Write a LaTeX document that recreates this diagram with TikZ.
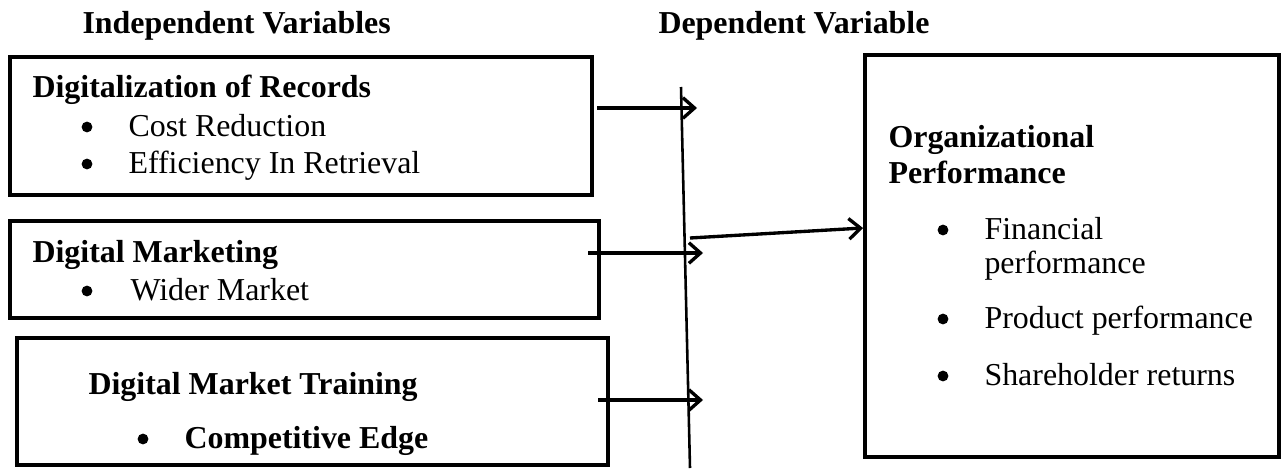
\documentclass[tikz,border=0pt]{standalone}
\usepackage{fontspec}
\setmainfont{Liberation Serif}
\usetikzlibrary{fit,arrows.meta}

\begin{document}
\begin{tikzpicture}[x=0.01365cm,y=-0.01365cm]
    \tikzstyle{box}=[draw=black,line width=1.55pt,inner sep=0pt]
    \tikzstyle{head}=[anchor=base west,inner sep=0pt,font=\fontsize{12.4}{14}\selectfont\bfseries]
    \tikzstyle{item}=[anchor=base west,inner sep=0pt,font=\fontsize{12.4}{14}\selectfont]
    \tikzstyle{dot}=[circle,fill=black,inner sep=0pt,minimum width=4.2pt,minimum height=4.2pt]
    \tikzstyle{link}=[line width=1.3pt,-{Straight Barb[length=4.5pt,width=8pt]}]

    \useasboundingbox (0,0) rectangle (1282,468);

    \node (indep)[head] at (82,33) {Independent Variables};
    \node (dep)[head] at (658,33) {Dependent Variable};

    % independent variables
    \node (rec)[box,fit={(10,57) (592,195)}] {};
    \node (rech)[head] at (32,97) {Digitalization of Records};
    \node (recd1)[dot] at (87,127) {};
    \node (reci1)[item] at (128,136) {Cost Reduction};
    \node (recd2)[dot] at (87,164) {};
    \node (reci2)[item] at (128,173) {Efficiency In Retrieval};

    \node (mkt)[box,fit={(10,221) (599,318)}] {};
    \node (mkth)[head] at (32,262) {Digital Marketing};
    \node (mktd1)[dot] at (87,291) {};
    \node (mkti1)[item] at (130,300) {Wider Market};

    \node (trn)[box,fit={(17,338) (608,465)}] {};
    \node (trnh)[head] at (88,394) {Digital Market Training};
    \node (trnd1)[dot] at (143,439) {};
    \node (trni1)[head] at (184,448) {Competitive Edge};

    % dependent variable
    \node (perf)[box,fit={(865,55) (1279,457)}] {};
    \node (perfh1)[head] at (888,147) {Organizational};
    \node (perfh2)[head] at (888,183) {Performance};
    \node (perfd1)[dot] at (943,230) {};
    \node (perfi1)[item] at (984,239) {Financial};
    \node (perfi2)[item] at (984,273) {performance};
    \node (perfd2)[dot] at (943,319) {};
    \node (perfi3)[item] at (984,328) {Product performance};
    \node (perfd3)[dot] at (943,376) {};
    \node (perfi4)[item] at (984,385) {Shareholder returns};

    \coordinate (top) at (681,87);
    \coordinate (bot) at (690,468);
    \draw[line width=1pt] (top) -- (bot);

    \coordinate (a1) at (597,108);
    \coordinate (b1) at (697,108);
    \coordinate (a2) at (588,253);
    \coordinate (b2) at (703,253);
    \coordinate (a3) at (598,400);
    \coordinate (b3) at (703,400);
    \coordinate (a4) at (690,238);
    \draw[link] (a1) -- (b1);
    \draw[link] (a2) -- (b2);
    \draw[link] (a3) -- (b3);
    \draw[link] (a4) -- (perf.west |- 0,228);
\end{tikzpicture}
\end{document}
